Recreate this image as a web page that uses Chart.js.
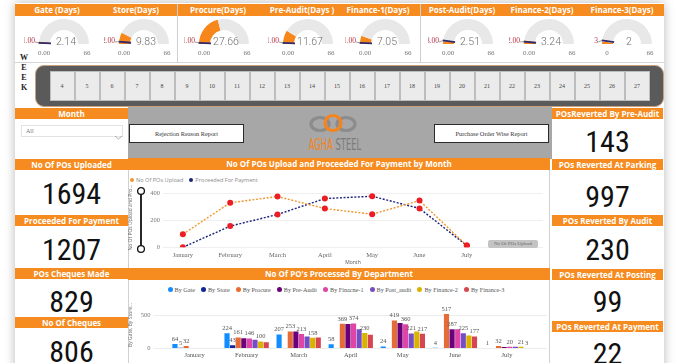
<!DOCTYPE html>
<html><head><meta charset="utf-8">
<script src="https://cdn.jsdelivr.net/npm/chart.js@4.4.1/dist/chart.umd.min.js"></script>
<style>
*{margin:0;padding:0;box-sizing:border-box}
html,body{width:680px;height:363px;overflow:hidden;background:#fff;position:relative}
.a{position:absolute}
.hdr{position:absolute;background:#f68b1f;color:#fff;font:700 8px "Open Sans",sans-serif;text-align:center;white-space:nowrap;overflow:hidden}
.num{position:absolute;font:30px "Liberation Sans Narrow","Roboto Condensed",sans-serif;color:#111;text-align:center;height:30px;line-height:30px}
.btn{position:absolute;background:#fff;border:1px solid #2b2b2b;font:6.3px "Liberation Serif",serif;color:#333;text-align:center;line-height:17px}
.lg{position:absolute;display:flex;align-items:center;white-space:nowrap}
.lg span.d{display:inline-block;width:5px;height:5px;border-radius:50%;margin-right:2px}
.lg span.t{margin-right:6px}
</style></head>
<body>
<script>
// ---------- DATA ----------
const gaugeTitles=['Gate (Days)','Store(Days)','Procure(Days)','Pre-Audit(Days )','Finance-1(Days)','Post-Audit(Days)','Finance-2(Days)','Finance-3(Days)'];
const gaugeValues=[2.14,9.83,27.66,11.67,7.05,2.51,3.24,2];
const gaugeTargets=[1,2,1,1,1,3,2,3];
const gaugeDecimals=[2,2,2,2,2,2,2,0];
const gaugeMax=66;
const weeks=[4,5,6,7,8,9,10,11,12,13,14,15,16,17,18,19,20,21,22,23,24,25,26,27];
const months=['January','February','March','April','May','June','July'];
const uploads=[97,330,376,287,245,346,13];
const proceeded=[0,157,243,361,378,288,13];
const lineTicks=[0,200,400];
const deptNames=['By Gate','By Store','By Procure','By Pre-Audit','By Finacne-1','By Post_audit','By Finance-2','By Finance-3'];
const byGate=[64,224,207,58,24,4,1];
const byStore=[5,43,null,null,null,null,null];
const byProcure=[32,161,253,369,419,517,32];
const byPreAudit=[null,150,250,365,380,287,18];
const byFinance1=[null,146,213,374,360,287,20];
const byPostAudit=[null,128,175,285,221,225,19];
const byFinance2=[null,100,158,230,250,190,21];
const byFinance3=[null,88,160,202,217,177,3];
const barTicks=[0,500];
const leftKpiTitles=['No Of POs Uploaded','Proceeded For Payment','POs Cheques Made','No Of Cheques'];
const leftKpiValues=[1694,1207,829,806];
const rightKpiTitles=['POsReverted By Pre-Audit','POs Reverted At Parking','POs Reverted By Audit','POs Reverted At Posting','POs Reverted At Payment'];
const rightKpiValues=[143,997,230,99,22];

// ---------- STYLE / LAYOUT ----------
const ORANGE='#f68b1f';
const deptColors=['#118dff','#12239e','#e66c37','#6b007b','#e044a7','#744ec2','#d9b300','#d64550'];
const gaugeCX=[64,144,224,308,385,468,549,627];
const gaugeTitleX=[57,136,218,302,378,462,542,622];
const leftHdrY=[159,215,268,317], leftNumY=[194,250,302,352];
const rightHdrY=[108,159,215,269,321], rightNumY=[142,197,250,302,354];

function el(tag,cls,css,html){const e=document.createElement(tag);if(cls)e.className=cls;if(css)e.style.cssText=css;if(html!==undefined)e.innerHTML=html;document.body.appendChild(e);return e;}

// dashboard frame / shadow
el('div','a','left:15px;top:3px;width:649px;height:372px;background:#fff;box-shadow:0 0 10px rgba(0,0,0,0.28)');

// gauge row
el('div','a','left:15px;top:16px;width:649px;height:47px;background:#fff;border-bottom:1px solid #d6d6d6');
el('div','hdr','left:15px;top:4px;width:649px;height:12px');
gaugeTitles.forEach((t,i)=>{el('div','a',`left:${gaugeTitleX[i]-45}px;top:4px;width:90px;height:12px;line-height:12px;text-align:center;color:#fff;font:700 8px "Open Sans",sans-serif;white-space:nowrap`,t);});
[177,420].forEach(x=>el('div','a',`left:${x}px;top:4px;width:1px;height:59px;background:#cfcfcf`));

// WEEK letters
['W','E','E','K'].forEach((c,i)=>el('div','a',`left:19px;top:${53+i*10}px;width:10px;text-align:center;font:700 8px "Liberation Serif",serif;color:#222`,c));
// week slicer
const wp=el('div','a','left:35px;top:65px;width:629px;height:42px;background:#5a5a5a;border-radius:9px;border:1px solid #c9a07c;display:flex;align-items:center;justify-content:center;padding:0 13px');
weeks.forEach(w=>{const t=document.createElement('div');t.style.cssText='width:25px;height:30px;background:#ebebeb;border:1px solid #bdbdbd;font:6px "Liberation Serif",serif;color:#444;text-align:center;line-height:28px';t.textContent=w;wp.appendChild(t);});

// month slicer
el('div','hdr','left:15px;top:108px;width:113px;height:11px;line-height:11px','Month');
el('div','a','left:21px;top:125px;width:102px;height:12px;border:1px solid #e2e2e2;font:6px "Liberation Serif",serif;color:#777;line-height:11px;padding-left:4px','All');
el('div','a','left:114px;top:127px;width:9px;height:7px','<svg width="9" height="7"><polyline points="1,2 4.5,5 8,2" fill="none" stroke="#999" stroke-width="0.8"/></svg>');
// grey banner
el('div','a','left:128px;top:107px;width:424px;height:52px;background:#a7a7a7');
el('div','btn','left:129px;top:124px;width:115px;height:19px','Rejection Reason Report');
el('div','btn','left:434px;top:124px;width:115px;height:19px','Purchase Order Wise Report');
el('div','a','left:306px;top:112px;width:56px;height:24px',
 '<svg width="56" height="24"><ellipse cx="14" cy="12" rx="9" ry="6.5" fill="none" stroke="#8c8c8c" stroke-width="3.2"/><ellipse cx="40" cy="12" rx="9" ry="6.5" fill="none" stroke="#8c8c8c" stroke-width="3.2"/><ellipse cx="27" cy="11" rx="8" ry="7.5" fill="none" stroke="#f5841f" stroke-width="3.2"/></svg>');
el('div','a','left:290px;top:137px;width:90px;height:16px;text-align:center;font:15px "Liberation Sans Narrow","DejaVu Sans Condensed",sans-serif;transform:scaleX(0.62);line-height:16px;white-space:nowrap','<span style="color:#f5841f">AGHA</span> <span style="color:#7a7a7a">STEEL</span>');

// KPI cards
leftKpiTitles.forEach((t,i)=>{el('div','hdr',`left:15px;top:${leftHdrY[i]}px;width:113px;height:11px;line-height:11px`,t);el('div','num',`left:15px;top:${leftNumY[i]-15}px;width:113px`,leftKpiValues[i]);});
rightKpiTitles.forEach((t,i)=>{el('div','hdr',`left:552px;top:${rightHdrY[i]}px;width:111px;height:11px;line-height:11px`,t);el('div','num',`left:552px;top:${rightNumY[i]-15}px;width:111px`,rightKpiValues[i]);});
el('div','a','left:128px;top:158px;width:1px;height:205px;background:#d0d0d0');
el('div','a','left:549px;top:158px;width:1px;height:205px;background:#d0d0d0');

// chart headers
el('div','hdr','left:128px;top:158px;width:422px;height:12px;line-height:12px','No Of POs Upload and Proceeded For Payment by Month');
el('div','hdr','left:128px;top:268px;width:422px;height:12px;line-height:12px','No Of PO\'s Processed By Department');

// line legend
(function(){const lg=el('div','lg','left:130px;top:176px;height:8px;font:5.6px "Open Sans",sans-serif;color:#8a8a8a');
 [['No Of POs Upload','#f0962e'],['Proceeded For Payment','#1b237a']].forEach(([n,c])=>{lg.insertAdjacentHTML('beforeend',`<span class="d" style="background:${c};width:4px;height:4px"></span><span class="t">${n}</span>`);});})();
// bar legend
(function(){const lg=el('div','lg','left:128px;top:285px;width:422px;height:8px;justify-content:center;font:6.2px "Liberation Serif",serif;color:#555');
 deptNames.forEach((n,k)=>{lg.insertAdjacentHTML('beforeend',`<span class="d" style="background:${deptColors[k]}"></span><span class="t">${n}</span>`);});})();

// canvases
el('canvas','a','left:128px;top:170px;width:422px;height:98px').id='lineC';
el('canvas','a','left:128px;top:280px;width:422px;height:90px').id='barC';
// slider + label box overlays
el('div','a','left:134px;top:186px;width:14px;height:68px','<svg width="14" height="68"><line x1="7" y1="5" x2="7" y2="63" stroke="#111" stroke-width="1.8"/><circle cx="7" cy="5" r="3.4" fill="#fff" stroke="#111" stroke-width="1.3"/><circle cx="7" cy="63" r="3.4" fill="#fff" stroke="#111" stroke-width="1.3"/></svg>');
el('div','a','left:488px;top:240px;width:50px;height:8px;background:#c4c4c4;border-radius:2px;font:5px "Liberation Serif",serif;color:#666;text-align:center;line-height:8px;white-space:nowrap','No Of POs Upload');

// ---------- CHARTS ----------
const gaugeText={id:'gaugeText',afterDatasetsDraw(chart,args,o){
 const arc=chart.getDatasetMeta(0).data[0];const {x,y,innerRadius,outerRadius}=arc.getProps(['x','y','innerRadius','outerRadius'],true);
 const ctx=chart.ctx;ctx.save();
 const a=Math.PI+(o.target/o.max)*Math.PI;
 ctx.strokeStyle='#2e2a6e';ctx.lineWidth=1.8;ctx.beginPath();ctx.moveTo(x+(innerRadius-1)*Math.cos(a),y+(innerRadius-1)*Math.sin(a));ctx.lineTo(x+(outerRadius+0.5)*Math.cos(a),y+(outerRadius+0.5)*Math.sin(a));ctx.stroke();
 ctx.strokeStyle='#777';ctx.lineWidth=0.7;ctx.beginPath();ctx.moveTo(x-29,y-2);ctx.lineTo(x+(outerRadius)*Math.cos(a),y+(outerRadius)*Math.sin(a));ctx.stroke();
 ctx.textBaseline='middle';
 ctx.fillStyle='#b5344a';ctx.font='7.5px "Liberation Serif"';ctx.textAlign='right';ctx.fillText(o.targetLabel,x-29,y-3);
 ctx.fillStyle='#6e6e6e';ctx.font='300 10.5px Roboto';ctx.textAlign='center';ctx.fillText(o.valueLabel,x+2,y-1.5);
 ctx.fillStyle='#777';ctx.font='7px "Liberation Serif"';ctx.fillText(o.minLabel,x-20,y+9);ctx.fillText(o.maxLabel,x+23,y+9);
 ctx.restore();}};
gaugeTitles.forEach((t,i)=>{
 const cv=el('canvas','a',`left:${gaugeCX[i]-40}px;top:16px;width:80px;height:46px`);cv.width=80;cv.height=46;
 const d=gaugeDecimals[i];
 new Chart(cv,{type:'doughnut',data:{datasets:[{data:[gaugeValues[i],gaugeMax-gaugeValues[i]],backgroundColor:['#f7861b','#e8e8e8'],borderWidth:0}]},
  options:{responsive:false,animation:false,rotation:-90,circumference:180,cutout:'56%',layout:{padding:{left:15,right:15,top:3,bottom:18}},
   plugins:{legend:{display:false},tooltip:{enabled:false},gaugeText:{target:gaugeTargets[i],max:gaugeMax,targetLabel:gaugeTargets[i].toFixed(d),valueLabel:gaugeValues[i].toFixed(d),minLabel:(0).toFixed(d),maxLabel:String(gaugeMax)}}},
  plugins:[gaugeText]});
});

const lc=document.getElementById('lineC');lc.width=422;lc.height=98;
new Chart(lc,{type:'line',data:{datasets:[
 {label:'No Of POs Upload',data:uploads.map((v,i)=>({x:i,y:v})),borderColor:'#f0962e',borderDash:[2,1.6],borderWidth:1.4,pointBackgroundColor:'#ee1d23',pointBorderWidth:0,pointRadius:3,tension:0},
 {label:'Proceeded For Payment',data:proceeded.map((v,i)=>({x:i,y:v})),borderColor:'#1b237a',borderDash:[2,1.6],borderWidth:1.4,pointBackgroundColor:'#ee1d23',pointBorderWidth:0,pointRadius:3,tension:0}]},
 options:{responsive:false,animation:false,layout:{padding:{left:0,right:7,top:17.9,bottom:0}},
  plugins:{legend:{display:false},tooltip:{enabled:false}},
  scales:{
   x:{type:'linear',min:-0.42,max:7.61,afterBuildTicks:s=>{s.ticks=months.map((m,i)=>({value:i}));},grid:{display:false,drawTicks:false},border:{display:false},
      ticks:{autoSkip:false,maxRotation:0,padding:4,color:'#666',font:{family:'Liberation Serif',size:6.5},callback:v=>months[v]},
      title:{display:true,text:'Month',color:'#555',font:{family:'Open Sans',size:5},padding:{top:0,bottom:2}},afterFit:s=>{s.height=20.7;}},
   y:{min:0,max:440,afterBuildTicks:s=>{s.ticks=lineTicks.map(v=>({value:v}));},grid:{color:'#efefef',drawTicks:false},border:{display:false},
      ticks:{padding:3,color:'#777',font:{family:'Liberation Serif',size:6.5}},
      title:{display:true,text:'No Of POs Upload and Pro...',color:'#666',font:{family:'Open Sans',size:5},padding:0},afterFit:s=>{s.width=35;}}}}});

const gridExt={id:'gridExt',beforeDatasetsDraw(c,a,o){const y=c.scales.y,ctx=c.ctx;ctx.save();ctx.strokeStyle=o.color;ctx.lineWidth=1;
 y.ticks.forEach(t=>{const py=Math.round(y.getPixelForValue(t.value))+0.5;ctx.beginPath();ctx.moveTo(c.chartArea.left-o.left,py);ctx.lineTo(c.chartArea.right+o.right,py);ctx.stroke();});ctx.restore();}};
const barLabels={id:'barLabels',afterDatasetsDraw(chart){const ctx=chart.ctx;ctx.save();ctx.font='6.5px "Liberation Serif"';ctx.fillStyle='#555';ctx.textAlign='center';ctx.textBaseline='bottom';
 const placed=[];
 for(let i=0;i<months.length;i++){chart.data.datasets.forEach((ds,di)=>{const v=ds.data[i];if(v==null)return;const bar=chart.getDatasetMeta(di).data[i];const t=String(v);const w=ctx.measureText(t).width;
  const r={x1:bar.x-w/2,x2:bar.x+w/2,y1:bar.y-8,y2:bar.y-2};
  if(placed.some(p=>!(r.x2<=p.x1||r.x1>=p.x2||r.y2<=p.y1||r.y1>=p.y2)))return;placed.push(r);ctx.fillText(t,bar.x,bar.y-1.5);});}
 ctx.restore();}};
const bc=document.getElementById('barC');bc.width=422;bc.height=90;
const deptData=[byGate,byStore,byProcure,byPreAudit,byFinance1,byPostAudit,byFinance2,byFinance3];
new Chart(bc,{type:'bar',data:{labels:months,datasets:deptNames.map((n,k)=>({label:n,data:deptData[k],backgroundColor:deptColors[k],borderWidth:0,categoryPercentage:0.86,barPercentage:0.92}))},
 options:{responsive:false,animation:false,layout:{padding:{left:0,right:17,top:17.7,bottom:0}},
  plugins:{legend:{display:false},tooltip:{enabled:false},gridExt:{left:15,right:14,color:'#ececec'}},
  scales:{
   x:{grid:{display:false,drawTicks:false},border:{display:false},ticks:{padding:3,color:'#555',font:{family:'Liberation Serif',size:6.5}},
      title:{display:true,text:'Month',color:'#555',font:{family:'Open Sans',size:5},padding:{top:0,bottom:0}},afterFit:s=>{s.height=20;}},
   y:{min:0,max:700,afterBuildTicks:s=>{s.ticks=barTicks.map(v=>({value:v}));},grid:{display:false,drawTicks:false},border:{display:false},
      ticks:{padding:18,color:'#777',font:{family:'Liberation Serif',size:6.5}},
      title:{display:true,text:'By Gate, By Store...',color:'#666',font:{family:'Open Sans',size:5},padding:0},afterFit:s=>{s.width=40.5;}}}},
 plugins:[gridExt,barLabels]});
</script>
</body></html>
